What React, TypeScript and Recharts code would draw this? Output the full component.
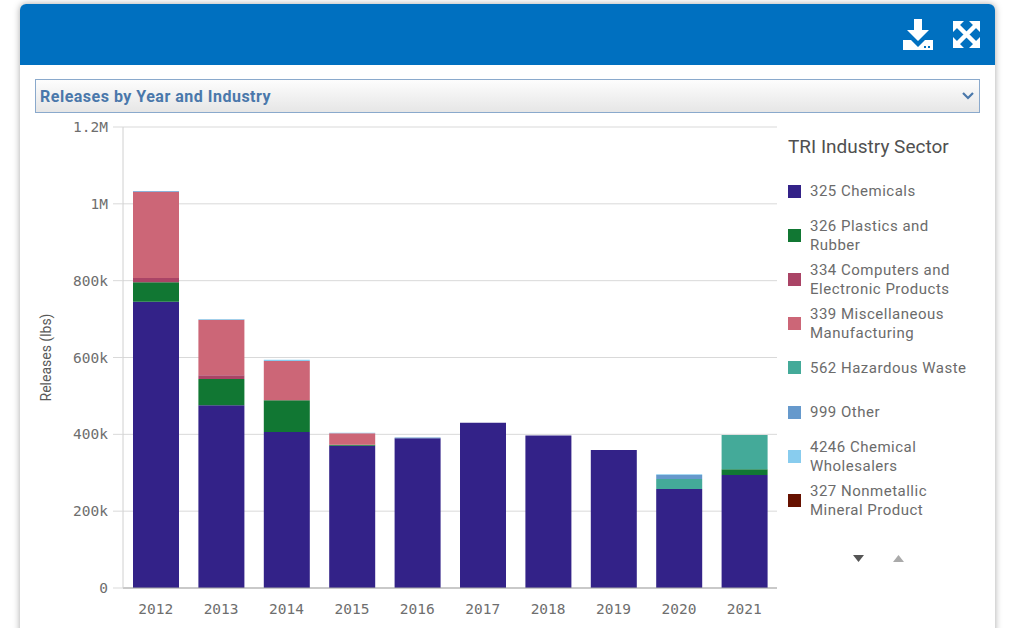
import { BarChart, Bar, XAxis, YAxis, CartesianGrid, Label } from 'recharts';

const years = ['2012', '2013', '2014', '2015', '2016', '2017', '2018', '2019', '2020', '2021'];
const chemicals = [745000, 476000, 406000, 370000, 390000, 430000, 397000, 359000, 258000, 294000];
const plastics = [51000, 68000, 83000, 3000, 0, 0, 0, 0, 0, 15000];
const computers = [11000, 10000, 0, 0, 0, 0, 0, 0, 0, 0];
const miscellaneous = [224000, 144000, 102000, 30000, 0, 0, 0, 0, 0, 0];
const hazardous = [0, 0, 0, 0, 0, 0, 0, 0, 26000, 89000];
const other = [2000, 0, 0, 0, 2000, 0, 0, 0, 10000, 0];
const wholesalers = [0, 2000, 3000, 1000, 0, 0, 0, 0, 2000, 0];
const nonmetallic = [0, 0, 0, 0, 0, 0, 0, 0, 0, 0];

const yTicks = [0, 200000, 400000, 600000, 800000, 1000000, 1200000];

const series = [
  { key: 'chemicals', name: '325 Chemicals', color: '#332288', values: chemicals },
  { key: 'plastics', name: '326 Plastics and Rubber', color: '#117733', values: plastics },
  { key: 'computers', name: '334 Computers and Electronic Products', color: '#aa4466', values: computers },
  { key: 'miscellaneous', name: '339 Miscellaneous Manufacturing', color: '#cc6677', values: miscellaneous },
  { key: 'hazardous', name: '562 Hazardous Waste', color: '#44aa99', values: hazardous },
  { key: 'other', name: '999 Other', color: '#6699cc', values: other },
  { key: 'wholesalers', name: '4246 Chemical Wholesalers', color: '#88ccee', values: wholesalers },
  { key: 'nonmetallic', name: '327 Nonmetallic Mineral Product', color: '#661100', values: nonmetallic },
];

const data = years.map((year, i) => {
  const row: Record<string, string | number> = { year };
  series.forEach(s => { row[s.key] = s.values[i]; });
  return row;
});

const formatTick = (v: number) => {
  if (v === 0) return '0';
  if (v >= 1000000) return `${v / 1000000}M`;
  return `${v / 1000}k`;
};

const uiFont = 'Roboto, sans-serif';
const monoFont: string = '"DejaVu Sans Mono", monospace';

export default function App() {
  return (
    <div style={{ position: 'fixed', left: 0, top: 0, width: 1012, height: 628, overflow: 'hidden', background: '#fff', fontFamily: uiFont }}>
      {/* card */}
      <div style={{ position: 'absolute', left: 20, top: 4, width: 975, height: 660, background: '#fff', borderRadius: 6, boxShadow: '0 0 7px rgba(0,0,0,0.35)' }} />
      <div style={{ position: 'absolute', left: 20, top: 4, width: 975, height: 60.5, background: '#0070c0', borderRadius: '6px 6px 0 0' }} />

      {/* header icons */}
      <svg width={90} height={50} style={{ position: 'absolute', left: 900, top: 14 }}>
        <path d="M14 5h8v11h7L18 27 7 16h7z" fill="#fff" />
        <path d="M3 26h8l7 7 7-7h8v10H3z" fill="#fff" />
        <rect x={24} y={32} width={2} height={2} fill="#0070c0" />
        <rect x={28} y={32} width={2} height={2} fill="#0070c0" />
        <path d="M53 7h11L53 18zM80 7H69l11 11zM53 34H64L53 23zM80 34H69l11-11z" fill="#fff" />
        <path d="M57 11L76 30M76 11L57 30" stroke="#fff" strokeWidth={4.5} />
      </svg>

      {/* dropdown */}
      <div style={{ position: 'absolute', left: 35, top: 79, width: 945, height: 34, boxSizing: 'border-box', border: '1.5px solid #8aa9cc', background: 'linear-gradient(#fdfdfd, #e6e6e6)', color: '#4a78ab', fontWeight: 700, fontSize: 16, letterSpacing: 0.5, lineHeight: '33px', paddingLeft: 4 }}>
        Releases by Year and Industry
      </div>
      <svg width={14} height={10} style={{ position: 'absolute', left: 961, top: 91 }}>
        <path d="M2 2l5 5 5-5" fill="none" stroke="#4a78ab" strokeWidth={2.2} />
      </svg>

      <div style={{ position: 'absolute', left: 0, top: 0 }}>
        <BarChart width={800} height={628} data={data} barSize={46} margin={{ top: 127, right: 23, left: 33, bottom: 0 }}>
          <CartesianGrid vertical={false} stroke="#d9d9d9" />
          <XAxis
            dataKey="year"
            height={40}
            axisLine={{ stroke: '#a6a6a6' }}
            tickLine={false}
            tickMargin={10}
            interval={0}
            tick={{ fill: '#6e6e6e', fontSize: 14.5, fontFamily: monoFont }}
          />
          <YAxis
            width={90}
            domain={[0, 1200000]}
            ticks={yTicks}
            tickFormatter={formatTick}
            interval={0}
            axisLine={{ stroke: '#d0d0d0' }}
            tickLine={{ stroke: '#d9d9d9' }}
            tickSize={10}
            tickMargin={5}
            tick={{ fill: '#6e6e6e', fontSize: 14.5, fontFamily: monoFont }}
          >
            <Label value="Releases (lbs)" angle={-90} position="insideLeft" offset={13} style={{ fill: '#595959', fontSize: 14, fontFamily: uiFont, textAnchor: 'middle' }} />
          </YAxis>
          {series.map(s => (
            <Bar key={s.key} dataKey={s.key} name={s.name} stackId="a" fill={s.color} isAnimationActive={false} />
          ))}
        </BarChart>
      </div>

      {/* legend */}
      <div style={{ position: 'absolute', left: 788, top: 136, fontSize: 19, lineHeight: '22px', color: '#505050' }}>TRI Industry Sector</div>
      {series.map((s, i) => (
        <div key={s.key} style={{ position: 'absolute', left: 788, top: 169 + i * 44.2, height: 44, width: 190, display: 'flex', alignItems: 'center' }}>
          <div style={{ width: 13, height: 13, background: s.color, flexShrink: 0 }} />
          <div style={{ marginLeft: 9, width: 160, fontSize: 15, letterSpacing: 0.5, lineHeight: '19px', color: '#6b6b6b', paddingTop: 1 }}>{s.name}</div>
        </div>
      ))}
      <svg width={60} height={12} style={{ position: 'absolute', left: 850, top: 552 }}>
        <path d="M3 3h11l-5.5 7z" fill="#555" />
        <path d="M43 10h11l-5.5-7z" fill="#aaa" />
      </svg>
    </div>
  );
}
